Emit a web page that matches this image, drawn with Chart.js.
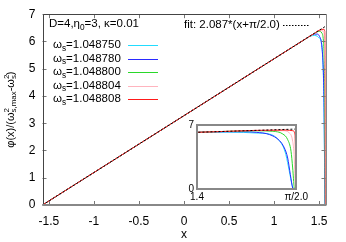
<!DOCTYPE html>
<html lang="en">
<head>
    <meta charset="UTF-8">
    <title>phi(x) profiles</title>
    <script src="https://cdn.jsdelivr.net/npm/chart.js"></script>
    <style>
        body { margin: 0; background: #fff; }
        #wrap { position: relative; width: 346px; height: 242px; }
        #mainChart { position: absolute; left: 0; top: 0; }
        #insetChart { position: absolute; left: 180px; top: 115px; }
    </style>
</head>
<body>
    <div id="wrap">
        <canvas id="mainChart" width="346" height="242"></canvas>
        <canvas id="insetChart" width="130" height="90"></canvas>
    </div>

    <script>
        // series labels (omega_s values) and colours
        const omegaLabels = ['1.048750', '1.048780', '1.048800', '1.048804', '1.048808'];
        const lineColors = ['#22dcff', '#2a2aff', '#2ad82a', '#ffb4be', '#ff1a1a'];

        // x positions and phi values for each omega_s
        const x1 = [-1.5708, 0, 1.0, 1.3, 1.40, 1.45, 1.48, 1.50, 1.525, 1.536, 1.548, 1.553, 1.559, 1.5636, 1.566];
        const y1 = [0, 3.278, 5.365, 5.991, 6.19, 6.22, 6.19, 6.13, 6.0, 5.65, 4.67, 3.76, 1.93, 0.47, 0];
        const x2 = [-1.5708, 0, 1.0, 1.3, 1.40, 1.45, 1.48, 1.502, 1.525, 1.542, 1.5504, 1.5561, 1.5607, 1.5647, 1.566];
        const y2 = [0, 3.278, 5.365, 5.991, 6.2, 6.27, 6.27, 6.2, 5.95, 5.29, 4.49, 3.39, 1.57, 0.1, 0];
        const x3 = [-1.5708, 0, 1.0, 1.3, 1.40, 1.45, 1.50, 1.5305, 1.5476, 1.5561, 1.5619, 1.5647, 1.5675, 1.568];
        const y3 = [0, 3.278, 5.365, 5.991, 6.2, 6.3, 6.37, 6.31, 6.02, 5.4, 4.12, 2.3, 0.1, 0];
        const x4 = [-1.5708, 0, 1.0, 1.3, 1.40, 1.45, 1.50, 1.5476, 1.559, 1.5647, 1.5675, 1.5692, 1.5695];
        const y4 = [0, 3.278, 5.365, 5.991, 6.2, 6.3, 6.4, 6.38, 6.13, 5.22, 3.39, 0.1, 0];
        const x5 = [-1.5708, 0, 1.0, 1.3, 1.40, 1.45, 1.50, 1.5533, 1.5647, 1.5687, 1.5704];
        const y5 = [0, 3.278, 5.365, 5.991, 6.2, 6.3, 6.41, 6.45, 6.38, 5.94, 0];

        // fit: 2.087*(x+pi/2), end points
        const fitX = [-1.5708, 1.5708];
        const fitY = [0, 6.556];

        // ticks
        const xTicks = [-1.5, -1, -0.5, 0, 0.5, 1, 1.5];
        const yTicks = [0, 1, 2, 3, 4, 5, 6, 7];
        const insetXTicks = [1.4, Math.PI / 2];
        const insetXLabels = ['1.4', '\u03c0/2.0'];
        const insetYTicks = [0, 7];

        const seriesX = [x1, x2, x3, x4, x5];
        const seriesY = [y1, y2, y3, y4, y5];
        const FONT = '"Liberation Sans", Arial, sans-serif';

        function pts(xs, ys) {
            return xs.map((x, i) => ({ x: x, y: ys[i] }));
        }

        function buildDatasets() {
            const sets = [{
                data: pts(fitX, fitY),
                borderColor: '#000',
                borderWidth: 1,
                borderDash: [2, 2],
                pointRadius: 0
            }];
            for (let i = seriesX.length - 1; i >= 0; i--) {
                sets.push({
                    data: pts(seriesX[i], seriesY[i]),
                    borderColor: lineColors[i],
                    borderWidth: 1,
                    pointRadius: 0,
                    cubicInterpolationMode: 'monotone'
                });
            }
            return sets;
        }

        // draw text with sub/superscripts, parts: [text, kind]
        function richWidth(ctx, parts, size) {
            let w = 0;
            parts.forEach(p => {
                ctx.font = (p[1] ? size * 0.72 : size) + 'px ' + FONT;
                w += ctx.measureText(p[0]).width;
            });
            return w;
        }

        function drawRich(ctx, parts, x, y, size) {
            ctx.textBaseline = 'middle';
            ctx.textAlign = 'left';
            parts.forEach(p => {
                ctx.font = (p[1] ? size * 0.72 : size) + 'px ' + FONT;
                let dy = 0;
                if (p[1] === 'sub') dy = size * 0.3;
                if (p[1] === 'sup') dy = -size * 0.38;
                ctx.fillText(p[0], x, y + dy);
                x += ctx.measureText(p[0]).width;
            });
            return x;
        }

        const framePlugin = {
            id: 'frame',
            afterDatasetsDraw(chart) {
                const ctx = chart.ctx;
                const a = chart.chartArea;
                const xs = chart.scales.x, ys = chart.scales.y;
                ctx.save();
                // inward ticks, mirrored
                ctx.strokeStyle = '#777';
                ctx.lineWidth = 1;
                ctx.beginPath();
                xTicks.forEach(v => {
                    const px = Math.round(xs.getPixelForValue(v)) + 0.5;
                    ctx.moveTo(px, a.bottom); ctx.lineTo(px, a.bottom - 4);
                    ctx.moveTo(px, a.top); ctx.lineTo(px, a.top + 4);
                });
                yTicks.forEach(v => {
                    const py = Math.round(ys.getPixelForValue(v)) + 0.5;
                    ctx.moveTo(a.left, py); ctx.lineTo(a.left + 4, py);
                    ctx.moveTo(a.right, py); ctx.lineTo(a.right - 4, py);
                });
                ctx.stroke();
                // border
                ctx.strokeStyle = '#444';
                ctx.beginPath();
                ctx.moveTo(Math.round(a.left) + 0.5, a.bottom);
                ctx.lineTo(Math.round(a.left) + 0.5, Math.round(a.top) + 0.5);
                ctx.lineTo(Math.round(a.right) + 0.5, Math.round(a.top) + 0.5);
                ctx.stroke();
                ctx.strokeStyle = '#888';
                ctx.beginPath();
                ctx.moveTo(Math.round(a.right) + 0.5, a.top);
                ctx.lineTo(Math.round(a.right) + 0.5, a.bottom);
                ctx.stroke();
                ctx.lineWidth = 2;
                ctx.beginPath();
                ctx.moveTo(a.left, Math.round(a.bottom));
                ctx.lineTo(a.right + 1, Math.round(a.bottom));
                ctx.stroke();

                // key
                ctx.fillStyle = '#000';
                drawRich(ctx, [['D=4,\u03b7'], ['0', 'sub'], ['=3, \u03ba=0.01']], 49, 24, 11.5);
                omegaLabels.forEach((lab, i) => {
                    const y = 45 + i * 13.5;
                    ctx.fillStyle = '#000';
                    drawRich(ctx, [['\u03c9'], ['s', 'sub'], ['=' + lab]], 53, y, 11.5);
                    ctx.strokeStyle = lineColors[i];
                    ctx.lineWidth = 1;
                    ctx.beginPath();
                    ctx.moveTo(128, Math.round(y) + 0.5);
                    ctx.lineTo(158, Math.round(y) + 0.5);
                    ctx.stroke();
                });
                ctx.fillStyle = '#000';
                const fitParts = [['fit: 2.087*(x+\u03c0/2.0)']];
                drawRich(ctx, fitParts, 184, 25, 11.5);
                ctx.strokeStyle = '#000';
                ctx.setLineDash([1.5, 1.5]);
                ctx.beginPath();
                ctx.moveTo(283, 25.5);
                ctx.lineTo(310, 25.5);
                ctx.stroke();
                ctx.setLineDash([]);

                // axis titles
                ctx.font = '12px ' + FONT;
                ctx.textAlign = 'center';
                ctx.textBaseline = 'middle';
                ctx.fillText('x', (a.left + a.right) / 2, 235);
                const yParts = [['\u03c6(x)/(\u03c9'], ['2', 'sup'], ['s,max', 'sub'], ['-\u03c9'], ['2', 'sup'], ['s', 'sub'], [')']];
                ctx.translate(11, (a.top + a.bottom) / 2);
                ctx.rotate(-Math.PI / 2);
                const w = richWidth(ctx, yParts, 11);
                // sup and sub share one slot
                const slot = w - richWidth(ctx, [['2', 'sup']], 11) * 2;
                let cx = -slot / 2;
                yParts.forEach((p, i) => {
                    const next = drawRich(ctx, [p], cx, 0, 11);
                    if (p[1] !== 'sup') cx = next;
                });
                ctx.restore();
            }
        };

        new Chart(document.getElementById('mainChart'), {
            type: 'line',
            data: { datasets: buildDatasets() },
            options: {
                responsive: false,
                animation: false,
                devicePixelRatio: 1,
                parsing: true,
                layout: { padding: { top: 14, right: 20.5, left: 0, bottom: 0 } },
                plugins: { legend: { display: false }, tooltip: { enabled: false } },
                scales: {
                    x: {
                        type: 'linear',
                        min: -Math.PI / 2,
                        max: Math.PI / 2,
                        afterBuildTicks: s => { s.ticks = xTicks.map(v => ({ value: v })); },
                        afterFit: s => { s.height = 37; },
                        grid: { display: false, drawTicks: false },
                        border: { display: false },
                        ticks: { color: '#000', font: { size: 12, family: FONT }, padding: 9, maxRotation: 0,
                                 callback: v => String(v) }
                    },
                    y: {
                        min: 0,
                        max: 7,
                        afterBuildTicks: s => { s.ticks = yTicks.map(v => ({ value: v })); },
                        afterFit: s => { s.width = 42.5; },
                        grid: { display: false, drawTicks: false },
                        border: { display: false },
                        ticks: { color: '#000', font: { size: 12, family: FONT }, padding: 7 }
                    }
                }
            },
            plugins: [framePlugin]
        });

        const insetPlugin = {
            id: 'insetFrame',
            beforeDatasetsDraw(chart) {
                const a = chart.chartArea;
                chart.ctx.save();
                chart.ctx.fillStyle = '#fff';
                chart.ctx.fillRect(a.left, a.top, a.right - a.left, a.bottom - a.top);
                chart.ctx.restore();
            },
            afterDatasetsDraw(chart) {
                const a = chart.chartArea;
                const ctx = chart.ctx;
                ctx.save();
                ctx.strokeStyle = '#888';
                ctx.lineWidth = 2;
                ctx.strokeRect(Math.round(a.left), Math.round(a.top), Math.round(a.right - a.left), Math.round(a.bottom - a.top));
                ctx.restore();
            }
        };

        new Chart(document.getElementById('insetChart'), {
            type: 'line',
            data: { datasets: buildDatasets() },
            options: {
                responsive: false,
                animation: false,
                devicePixelRatio: 1,
                layout: { padding: { top: 10, right: 13, left: 0, bottom: 0 } },
                plugins: { legend: { display: false }, tooltip: { enabled: false } },
                scales: {
                    x: {
                        type: 'linear',
                        min: 1.4,
                        max: Math.PI / 2,
                        afterBuildTicks: s => { s.ticks = insetXTicks.map(v => ({ value: v })); },
                        afterFit: s => { s.height = 16; },
                        grid: { display: false, drawTicks: false },
                        border: { display: false },
                        ticks: { color: '#000', font: { size: 10, family: FONT }, padding: 2, maxRotation: 0,
                                 callback: (v, i) => insetXLabels[i] }
                    },
                    y: {
                        min: 0,
                        max: 7,
                        afterBuildTicks: s => { s.ticks = insetYTicks.map(v => ({ value: v })); },
                        afterFit: s => { s.width = 17; },
                        grid: { display: false, drawTicks: false },
                        border: { display: false },
                        ticks: { color: '#000', font: { size: 10, family: FONT }, padding: 3 }
                    }
                }
            },
            plugins: [insetPlugin]
        });
    </script>
</body>
</html>
